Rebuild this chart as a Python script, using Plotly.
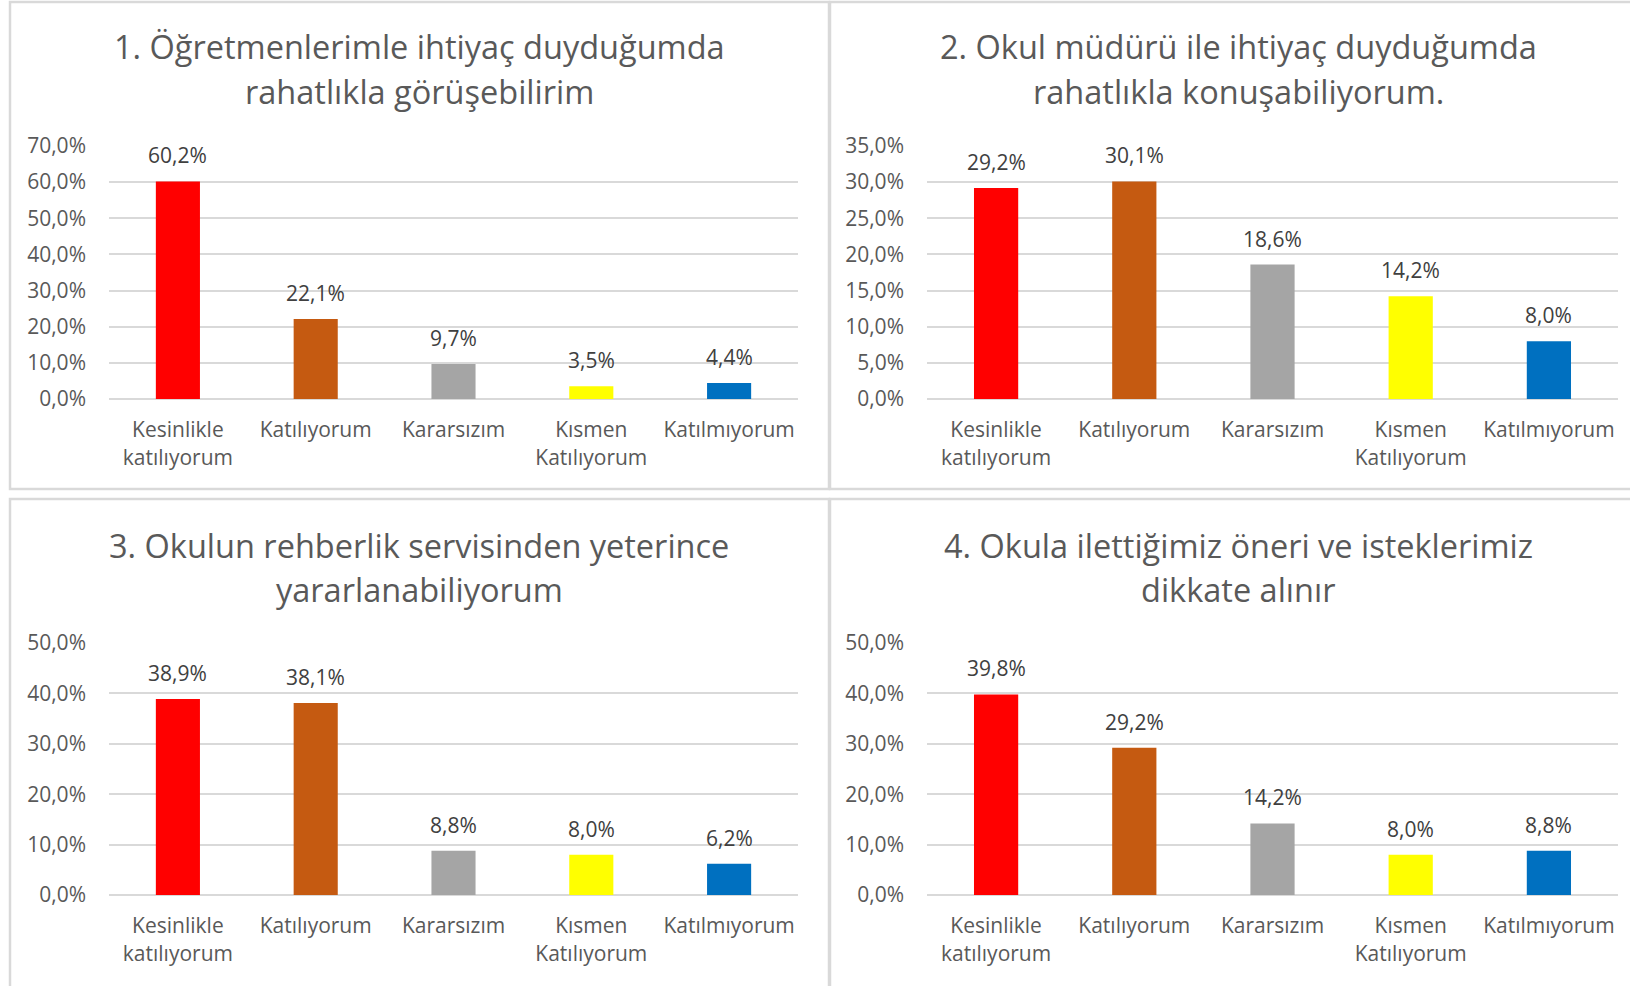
import plotly.graph_objects as go

W, H = 1630, 986

categories = ["Kesinlikle<br>katılıyorum", "Katılıyorum", "Kararsızım", "Kısmen<br>Katılıyorum", "Katılmıyorum"]
colors = ["#FF0000", "#C55A11", "#A5A5A5", "#FFFF00", "#0070C0"]

title_lines = [
    ["1. Öğretmenlerimle ihtiyaç duyduğumda", "rahatlıkla görüşebilirim"],
    ["2. Okul müdürü ile ihtiyaç duyduğumda", "rahatlıkla konuşabiliyorum."],
    ["3. Okulun rehberlik servisinden yeterince", "yararlanabiliyorum"],
    ["4. Okula ilettiğimiz öneri ve isteklerimiz", "dikkate alınır"],
]
values_1 = [60.2, 22.1, 9.7, 3.5, 4.4]
values_2 = [29.2, 30.1, 18.6, 14.2, 8.0]
values_3 = [38.9, 38.1, 8.8, 8.0, 6.2]
values_4 = [39.8, 29.2, 14.2, 8.0, 8.8]
y_max = [70, 35, 50, 50]
y_step = [10, 5, 10, 10]

# layout geometry in pixels (x0, x1, ytop, ybottom) for plot areas
plot_px = [
    (109, 798, 146, 399),
    (927, 1618, 146, 399),
    (109, 798, 643, 895),
    (927, 1618, 643, 895),
]
box_px = [
    (10, 829, 2, 489),
    (830, 1646, 2, 489),
    (10, 829, 499, 992),
    (830, 1646, 499, 992),
]
# title center x, line 1 y, line 2 y
title_px = [(419, 46, 91), (1238, 46, 91), (419, 545, 589), (1238, 545, 589)]

FONT = "Open Sans"
GREY = "#595959"
DARK = "#404040"
GRID = "#D9D9D9"

def px_x(x):
    return x / W

def px_y(y):
    return 1 - y / H

fig = go.Figure()
all_values = [values_1, values_2, values_3, values_4]
annotations = []
shapes = []

for i, vals in enumerate(all_values):
    n = "" if i == 0 else str(i + 1)
    xa, ya = "x" + n, "y" + n
    fig.add_trace(go.Bar(
        x=categories, y=vals, marker_color=colors, marker_line_width=0,
        xaxis=xa, yaxis=ya, showlegend=False, hoverinfo="skip",
    ))
    x0, x1, yt, yb = plot_px[i]
    ticks = list(range(0, y_max[i] + 1, y_step[i]))
    fig.layout["xaxis" + n] = dict(
        domain=[px_x(x0), px_x(x1)], anchor=ya, type="category",
        showgrid=False, showline=False, zeroline=False, automargin=False,
        ticks="outside", ticklen=12, tickcolor="rgba(0,0,0,0)",
        tickfont=dict(family=FONT, size=21, color=GREY),
        fixedrange=True,
    )
    fig.layout["yaxis" + n] = dict(
        domain=[px_y(yb), px_y(yt)], anchor=xa, range=[0, y_max[i]],
        tickvals=ticks, ticktext=[f"{t:.1f}".replace(".", ",") + "%" for t in ticks],
        showgrid=True, gridcolor=GRID, gridwidth=1.5, automargin=False,
        zeroline=True, zerolinecolor=GRID, zerolinewidth=1.5,
        showline=False, ticks="", ticklabelstandoff=22,
        tickfont=dict(family=FONT, size=21, color=GREY),
        fixedrange=True,
    )
    for c, v in zip(categories, vals):
        annotations.append(dict(
            x=c, y=v, xref=xa, yref=ya, text=f"{v:.1f}".replace(".", ",") + "%",
            showarrow=False, yanchor="middle", yshift=26,
            font=dict(family=FONT, size=21, color=DARK),
        ))
    tx, ty1, ty2 = title_px[i]
    for line, ty in zip(title_lines[i], (ty1, ty2)):
        annotations.append(dict(
            x=px_x(tx), y=px_y(ty), xref="paper", yref="paper", text=line,
            showarrow=False, xanchor="center", yanchor="middle",
            font=dict(family=FONT, size=32.5, color=GREY),
        ))
    bx0, bx1, by0, by1 = box_px[i]
    shapes.append(dict(
        type="rect", xref="paper", yref="paper",
        x0=px_x(bx0), x1=px_x(bx1), y0=px_y(by1), y1=px_y(by0),
        line=dict(color=GRID, width=2.5), fillcolor="rgba(0,0,0,0)", layer="below",
    ))

fig.update_layout(
    template="none",
    width=W, height=H, margin=dict(l=0, r=0, t=0, b=0, pad=0, autoexpand=False),
    paper_bgcolor="white", plot_bgcolor="white",
    bargap=0.68, annotations=annotations, shapes=shapes,
    font=dict(family=FONT, color=GREY),
)

fig.write_html(
    "out.html",
    config={"displayModeBar": False},
    post_script="document.body.style.margin='0';document.body.style.overflow='hidden';",
)
